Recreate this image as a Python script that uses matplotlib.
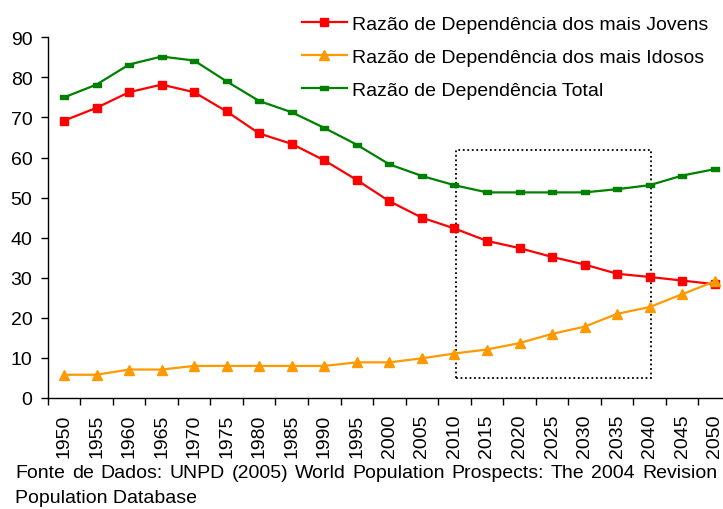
import matplotlib
matplotlib.use("Agg")
import matplotlib.pyplot as plt
from matplotlib.patches import Rectangle
import numpy as np

plt.rcParams['font.family'] = ['Liberation Sans', 'DejaVu Sans']

years = [1950, 1955, 1960, 1965, 1970, 1975, 1980, 1985, 1990, 1995, 2000,
         2005, 2010, 2015, 2020, 2025, 2030, 2035, 2040, 2045, 2050]
jovens = [69.2, 72.4, 76.3, 78.2, 76.3, 71.5, 66.0, 63.4, 59.3, 54.4, 49.1,
          45.0, 42.3, 39.2, 37.4, 35.2, 33.3, 31.0, 30.2, 29.3, 28.4]
idosos = [5.8, 5.8, 7.1, 7.1, 8.0, 8.0, 8.0, 8.0, 8.0, 8.9, 8.9,
          9.9, 11.1, 12.1, 13.7, 16.0, 17.8, 21.0, 22.7, 25.9, 29.1]
total = [75.0, 78.2, 83.2, 85.2, 84.2, 79.0, 74.1, 71.3, 67.4, 63.2, 58.3,
         55.4, 53.1, 51.3, 51.3, 51.3, 51.3, 52.1, 53.1, 55.5, 57.1]

labels = ['Razão de Dependência dos mais Jovens',
          'Razão de Dependência dos mais Idosos',
          'Razão de Dependência Total']
yticks = [0, 10, 20, 30, 40, 50, 60, 70, 80, 90]
box_years = (2010, 2040)
box_values = (5, 62)
caption1 = "Fonte de Dados: UNPD (2005) World Population Prospects: The 2004 Revision"
caption2 = "Population Database"

W, H = 723, 510
fig = plt.figure(figsize=(W / 100, H / 100), dpi=100)
ax_left, ax_right, ax_bottom, ax_top = 47.7, 731, 399, 38.3
ax = fig.add_axes([ax_left / W, 1 - ax_bottom / H, (ax_right - ax_left) / W, (ax_bottom - ax_top) / H])

x = np.arange(len(years))
fs = 14

dash_marker = [(-1, -0.45), (1, -0.45), (1, 0.45), (-1, 0.45), (-1, -0.45)]
l1, = ax.plot(x, jovens, color='#FF0000', lw=1.6, marker='s', ms=5.5, mec='#FF0000', mfc='#FF0000')
l2, = ax.plot(x, idosos, color='#FF9900', lw=1.6, marker='^', ms=7, mec='#FF9900', mfc='#FF9900')
l3, = ax.plot(x, total, color='#008000', lw=1.6, marker=dash_marker, ms=6, mec='#008000', mfc='#008000')

# dotted box
i0 = years.index(box_years[0]) + 0.05
i1 = years.index(box_years[1]) + 0.05
ax.add_patch(Rectangle((i0, box_values[0]), i1 - i0, box_values[1] - box_values[0],
                       fill=False, ec='black', lw=1.3, ls=(0, (1, 1.5))))

ax.set_xlim(-0.5, len(years) - 0.5)
ax.set_ylim(0, 90)
ax.set_yticks(yticks)
ax.set_yticklabels([str(v) for v in yticks], fontsize=fs)
ax.set_xticks(x)
ax.set_xticklabels([str(y) for y in years], rotation=90, fontsize=fs)
ax.set_xticks(np.arange(len(years) + 1) - 0.5, minor=True)
ax.tick_params(axis='x', which='major', length=0, pad=11)
ax.tick_params(axis='x', which='minor', length=5, width=1, direction='out')
ax.tick_params(axis='y', length=5, width=1, direction='out', pad=6)
for s in ['top', 'right']:
    ax.spines[s].set_visible(False)
for s in ['left', 'bottom']:
    ax.spines[s].set_linewidth(1)
ax.patch.set_alpha(0)

fig.legend([l1, l2, l3], labels, loc='upper left',
           bbox_to_anchor=(302 / W, 1 - 16 / H), frameon=False, fontsize=fs,
           handlelength=2.3, handletextpad=0.27, labelspacing=0.8, borderpad=0, borderaxespad=0)

# justified caption line 1
fig.canvas.draw()
renderer = fig.canvas.get_renderer()
words = caption1.split(' ')
xl, xr = 15, 717
y1 = 1 - 474 / H
texts = [fig.text(0, y1, w, fontsize=fs, va='center', ha='left') for w in words]
widths = [t.get_window_extent(renderer).width for t in texts]
gap = (xr - xl - sum(widths)) / (len(words) - 1)
pos = xl
for t, w in zip(texts, widths):
    t.set_x(pos / W)
    pos += w + gap
fig.text(xl / W, 1 - 499 / H, caption2, fontsize=fs, va='center', ha='left')

fig.savefig('out.png', dpi=100)
